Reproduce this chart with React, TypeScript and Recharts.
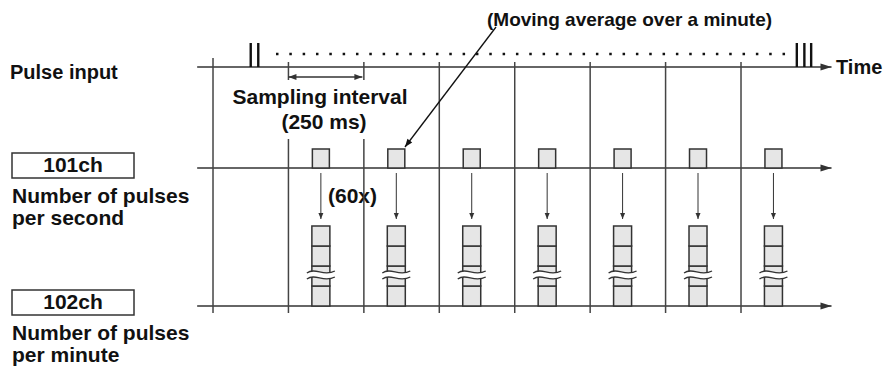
import React from "react";
import {
  ComposedChart,
  XAxis,
  YAxis,
  Scatter,
  ReferenceLine,
  Customized,
} from "recharts";

// time is counted in sampling intervals (1 = 250 ms), levels in cell heights
const gridTimes = [0, 1, 2, 3, 4, 5, 6, 7];
const sampleTimes = [1, 2, 3, 4, 5, 6, 7];
const outputDelay = 0.43;
const firstPulses = [0.5, 0.6];
const lastPulses = [7.74, 7.84, 7.93];
const visibleCells = [0, 1, 2, 3]; // 4 of the 60 stacked values are drawn

const pulseLevel = 11.95;
const ch101Level = 6.9;
const ch102Level = 0;

const W = 889;
const H = 367;
const X_DOMAIN: [number, number] = [-2.824, 8.962];
const Y_DOMAIN: [number, number] = [-3.05, 15.3];

const LINE = "#333";
const FILL = "#e6e6e6";

const arrow =
  (opts: { both?: boolean; len?: number; half?: number; width?: number; color?: string }) =>
  (p: any) => {
    const { x1, y1, x2, y2 } = p;
    const len = opts.len ?? 10;
    const half = opts.half ?? 3.5;
    const color = opts.color ?? LINE;
    const a = Math.atan2(y2 - y1, x2 - x1);
    const head = (x: number, y: number, ang: number) => {
      const bx = x - len * Math.cos(ang);
      const by = y - len * Math.sin(ang);
      const nx = -Math.sin(ang) * half;
      const ny = Math.cos(ang) * half;
      return `${x},${y} ${bx + nx},${by + ny} ${bx - nx},${by - ny}`;
    };
    return (
      <g>
        <line x1={x1} y1={y1} x2={x2} y2={y2} stroke={color} strokeWidth={opts.width ?? 1.5} />
        <polygon points={head(x2, y2, a)} fill={color} />
        {opts.both && <polygon points={head(x1, y1, a + Math.PI)} fill={color} />}
      </g>
    );
  };

const axisArrow = arrow({ len: 11, half: 3.5, width: 1.5 });
const downArrow = arrow({ len: 6, half: 2.5, width: 1 });
const spanArrow = arrow({ both: true, len: 8, half: 3, width: 1.3 });
const noteArrow = arrow({ len: 8, half: 3, width: 1.3, color: "#111" });

const OutputBox = (p: any) => (
  <rect x={p.cx - 8.5} y={p.cy - 19} width={17} height={19} fill={FILL} stroke={LINE} strokeWidth={1.5} />
);

// one "~" stroke of the break mark
const wave = (x0: number, x1: number, y: number) => {
  const w = x1 - x0;
  return `M${x0},${y + 1} C${x0 + w * 0.3},${y - 5} ${x0 + w * 0.6},${y + 5} ${x1},${y - 1}`;
};

const CellStack = (p: any) => {
  const { cx, cy } = p;
  const top = cy - 34;
  const bot = cy - 28;
  const w1 = wave(cx - 14, cx + 14, top);
  const w2 = wave(cx - 14, cx + 14, bot);
  const back = `M${cx - 14},${bot + 1} C${cx + 14 - 28 * 0.4},${bot + 5} ${cx + 14 - 28 * 0.7},${bot - 5} ${cx - 14},${bot + 1}`;
  return (
    <g>
      {visibleCells.map((k) => (
        <rect
          key={k}
          x={cx - 9}
          y={cy - 20 * (k + 1)}
          width={18}
          height={20}
          fill={FILL}
          stroke={LINE}
          strokeWidth={1.5}
        />
      ))}
      <path
        d={`${w1} L${cx + 14},${bot - 1} C${cx - 14 + 28 * 0.6},${bot + 5} ${cx - 14 + 28 * 0.3},${bot - 5} ${cx - 14},${bot + 1} Z`}
        fill="#fff"
        stroke="none"
      />
      <path d={w1} fill="none" stroke={LINE} strokeWidth={1.3} />
      <path d={w2} fill="none" stroke={LINE} strokeWidth={1.3} />
      <path d={back} fill="none" stroke="none" />
    </g>
  );
};

const font = {
  fontFamily: "'Liberation Sans', Arial, sans-serif",
  fontWeight: 700,
  fill: "#111",
};

const Labels = () => (
  <g style={font}>
    <text x={487} y={26} fontSize={19}>(Moving average over a minute)</text>
    <text x={10} y={79} fontSize={20}>Pulse input</text>
    <text x={836} y={74} fontSize={20}>Time</text>
    <text x={320} y={104} fontSize={21} textAnchor="middle">Sampling interval</text>
    <text x={324} y={129} fontSize={21} textAnchor="middle">(250 ms)</text>
    <rect x={12} y={153} width={122} height={25} fill="none" stroke={LINE} strokeWidth={1.5} />
    <text x={73} y={172} fontSize={21} textAnchor="middle">101ch</text>
    <text x={12} y={203} fontSize={21}>Number of pulses</text>
    <text x={12} y={225} fontSize={21}>per second</text>
    <text x={328} y={203} fontSize={21}>(60x)</text>
    <rect x={12} y={290} width={122} height={25} fill="none" stroke={LINE} strokeWidth={1.5} />
    <text x={73} y={309} fontSize={21} textAnchor="middle">102ch</text>
    <text x={12} y={340} fontSize={21}>Number of pulses</text>
    <text x={12} y={362} fontSize={21}>per minute</text>
  </g>
);

const ch101Data = sampleTimes.map((t) => ({ t: t + outputDelay, v: ch101Level }));
const ch102Data = sampleTimes.map((t) => ({ t: t + outputDelay, v: ch102Level }));

export default function App() {
  return (
    <div style={{ position: "absolute", left: 0, top: 0, width: W, height: H, background: "#fff" }}>
      <ComposedChart width={W} height={H} margin={{ top: 0, right: 0, bottom: 0, left: 0 }}>
        <XAxis type="number" dataKey="t" domain={X_DOMAIN} allowDataOverflow hide />
        <YAxis type="number" dataKey="v" domain={Y_DOMAIN} allowDataOverflow hide />

        {/* time axes */}
        {[pulseLevel, ch101Level, ch102Level].map((lv) => (
          <ReferenceLine
            key={lv}
            segment={[{ x: -0.21, y: lv }, { x: 8.2, y: lv }]}
            shape={axisArrow}
          />
        ))}

        {/* sampling grid */}
        {gridTimes.map((t) =>
          t === 1 || t === 2 ? (
            <React.Fragment key={t}>
              <ReferenceLine segment={[{ x: t, y: 12.2 }, { x: t, y: 11.3 }]} stroke="#444" strokeWidth={1.5} />
              <ReferenceLine segment={[{ x: t, y: 8.35 }, { x: t, y: -0.35 }]} stroke="#444" strokeWidth={1.5} />
            </React.Fragment>
          ) : (
            <ReferenceLine
              key={t}
              segment={[{ x: t, y: t === 0 ? 12.4 : 12.2 }, { x: t, y: -0.35 }]}
              stroke="#444"
              strokeWidth={1.5}
            />
          )
        )}

        {/* pulses */}
        {[...firstPulses, ...lastPulses].map((t) => (
          <ReferenceLine
            key={t}
            segment={[{ x: t, y: 13.15 }, { x: t, y: pulseLevel }]}
            stroke="#111"
            strokeWidth={2.4}
          />
        ))}
        <ReferenceLine
          segment={[{ x: 0.835, y: 12.6 }, { x: 7.62, y: 12.6 }]}
          stroke="#111"
          strokeWidth={2.5}
          strokeDasharray="2.5 10.83"
        />

        <ReferenceLine segment={[{ x: 1, y: 11.45 }, { x: 1.98, y: 11.45 }]} shape={spanArrow} />
        <ReferenceLine segment={[{ x: 3.752, y: 13.95 }, { x: 2.545, y: 7.95 }]} shape={noteArrow} />

        {sampleTimes.map((t) => (
          <ReferenceLine
            key={t}
            segment={[{ x: t + outputDelay, y: 6.65 }, { x: t + outputDelay, y: 4.35 }]}
            shape={downArrow}
          />
        ))}

        <Scatter data={ch101Data} shape={OutputBox} isAnimationActive={false} />
        <Scatter data={ch102Data} shape={CellStack} isAnimationActive={false} />

        <Customized component={Labels} />
      </ComposedChart>
    </div>
  );
}
